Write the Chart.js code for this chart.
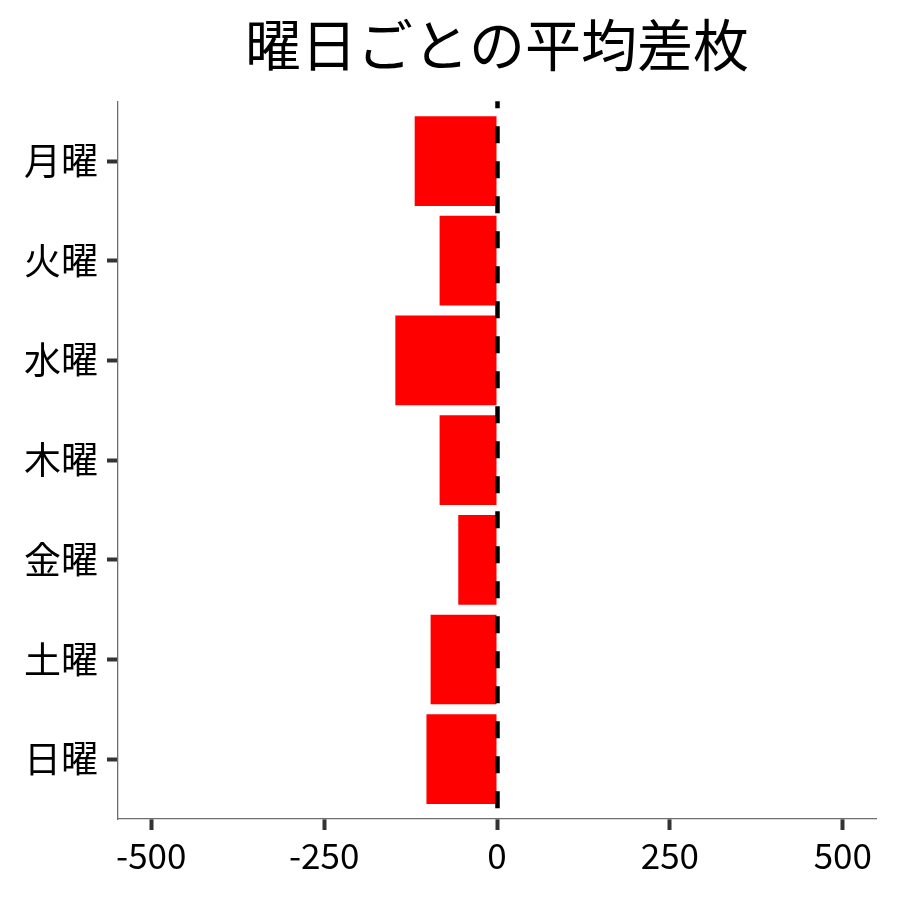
<!DOCTYPE html>
<html>
<head>
<meta charset="utf-8">
<script src="https://cdn.jsdelivr.net/npm/chart.js@4/dist/chart.umd.min.js"></script>
<style>
  html, body { margin: 0; padding: 0; background: #fff; }
  #wrap { width: 900px; height: 900px; }
</style>
</head>
<body>
<div id="wrap"><canvas id="myChart" width="900" height="900"></canvas></div>
<script>
const days = ['月曜', '火曜', '水曜', '木曜', '金曜', '土曜', '日曜']
const avgDiff = [-119, -83, -147, -83, -56, -96, -102]
const xTicks = [-500, -250, 0, 250, 500]

Chart.defaults.font.family = '"Noto Sans CJK JP", "Noto Sans", sans-serif'
Chart.defaults.color = '#000'

// 0 の位置に黒い破線
const zeroLine = {
  id: 'zeroLine',
  afterDatasetsDraw(chart) {
    const { ctx, chartArea, scales } = chart
    const x = scales.x.getPixelForValue(0) + 0.5
    ctx.save()
    ctx.strokeStyle = '#000'
    ctx.lineWidth = 4.5
    ctx.setLineDash([17, 18])
    ctx.lineDashOffset = 10
    ctx.beginPath()
    ctx.moveTo(x, chartArea.top)
    ctx.lineTo(x, chartArea.bottom)
    ctx.stroke()
    ctx.restore()
  }
}

// タイトルをプロット領域の中央に揃える
const titleOverPlot = {
  id: 'titleOverPlot',
  afterLayout(chart) {
    if (chart.titleBlock) {
      chart.titleBlock.left = chart.chartArea.left
      chart.titleBlock.right = chart.chartArea.right
    }
  }
}

const ctx = document.querySelector('#myChart').getContext('2d')
const myChart = new Chart(ctx, {
  type: 'bar',
  data: {
    datasets: [{
      data: avgDiff.map((v, i) => ({ x: v, y: i })),
      backgroundColor: '#ff0000',
      borderWidth: 0,
      barPercentage: 0.9,
      categoryPercentage: 1
    }]
  },
  options: {
    indexAxis: 'y',
    responsive: false,
    animation: false,
    layout: { padding: { left: 0, right: 24, top: 0, bottom: 0 } },
    plugins: {
      legend: { display: false },
      tooltip: { enabled: false },
      title: {
        display: true,
        text: '曜日ごとの平均差枚',
        color: '#000',
        font: { size: 56, weight: 'normal' },
        padding: { top: 11, bottom: 23 }
      }
    },
    scales: {
      x: {
        type: 'linear',
        min: -548,
        max: 548,
        afterBuildTicks(scale) {
          scale.ticks = xTicks.map(v => ({ value: v }))
        },
        afterFit(scale) { scale.height = 81 },
        grid: {
          display: true,
          drawOnChartArea: false,
          drawTicks: true,
          tickLength: 11,
          tickWidth: 4,
          tickColor: '#333'
        },
        border: { display: true, color: '#6e6e6e', width: 1.3 },
        ticks: { font: { size: 35 }, color: '#000', padding: 5, maxRotation: 0 }
      },
      y: {
        type: 'linear',
        min: -0.6,
        max: 6.6,
        reverse: true,
        offset: false,
        afterBuildTicks(scale) {
          scale.ticks = days.map((d, i) => ({ value: i }))
        },
        afterFit(scale) { scale.width = 118 },
        grid: {
          display: true,
          offset: false,
          drawOnChartArea: false,
          drawTicks: true,
          tickLength: 11,
          tickWidth: 4,
          tickColor: '#333'
        },
        border: { display: true, color: '#6e6e6e', width: 1.3 },
        ticks: {
          font: { size: 37 },
          color: '#000',
          padding: 9,
          callback: (v) => days[v]
        }
      }
    }
  },
  plugins: [zeroLine, titleOverPlot]
})
</script>
</body>
</html>
